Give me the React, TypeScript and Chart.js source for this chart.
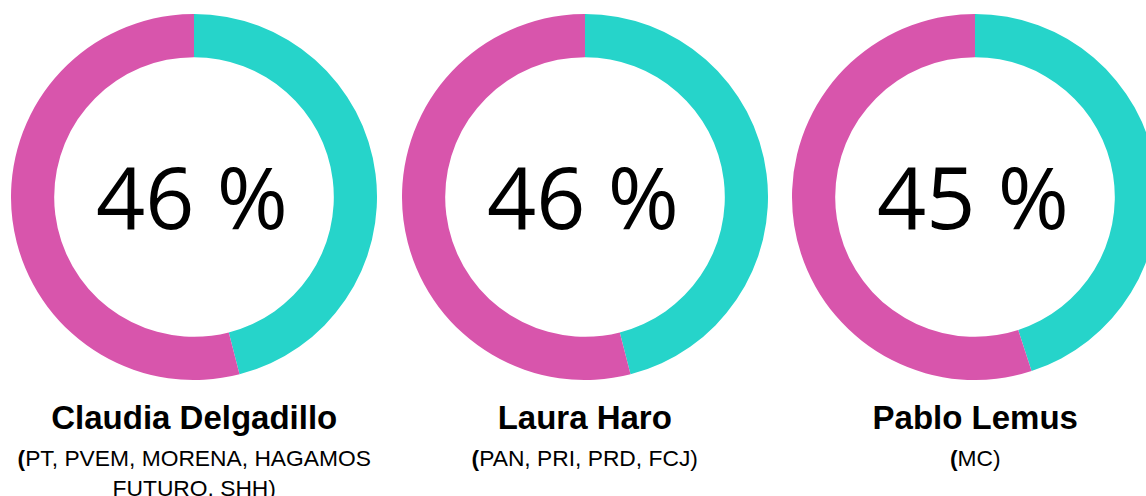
import React, { useEffect, useRef } from "react";
import { Chart, registerables } from "chart.js";

Chart.register(...registerables);

const candidates = ["Claudia Delgadillo", "Laura Haro", "Pablo Lemus"];
const parties = ["PT, PVEM, MORENA, HAGAMOS FUTURO, SHH", "PAN, PRI, PRD, FCJ", "MC"];
const shareValues = [46, 46, 45];
const restValues = [54, 54, 55];
const segmentLabels = ["Intención", "Resto"];
const segmentColors = ["#26D4CA", "#D855AC"];

const centerTextPlugin = {
  id: "centerText",
  afterDraw(chart: any) {
    const meta = chart.getDatasetMeta(0);
    const arc = meta.data[0];
    if (!arc) return;
    const ctx = chart.ctx;
    const value = chart.data.datasets[0].data[0];
    ctx.save();
    ctx.font = '86px "Open Sans"';
    ctx.fillStyle = "#000";
    ctx.textAlign = "center";
    ctx.textBaseline = "alphabetic";
    ctx.fillText(`${value} %`, arc.x - 2, arc.y + 32);
    ctx.restore();
  },
};

function Donut({ index }: { index: number }) {
  const ref = useRef<HTMLCanvasElement | null>(null);
  useEffect(() => {
    if (!ref.current) return;
    let alive = true;
    const chart = new Chart(ref.current, {
      type: "doughnut",
      data: {
        labels: segmentLabels,
        datasets: [
          {
            data: [shareValues[index], restValues[index]],
            backgroundColor: segmentColors,
            borderWidth: 0,
            hoverOffset: 0,
          },
        ],
      },
      options: {
        animation: false,
        responsive: true,
        maintainAspectRatio: false,
        cutout: "76.4%",
        layout: { padding: 0 },
        plugins: {
          legend: { display: false },
          tooltip: { enabled: false },
        },
      },
      plugins: [centerTextPlugin],
    });
    const fonts = (document as any).fonts;
    if (fonts && fonts.load) {
      fonts.load('86px "Open Sans"').then(() => {
        if (alive) chart.draw();
      });
    }
    return () => {
      alive = false;
      chart.destroy();
    };
  }, [index]);
  return <canvas ref={ref} />;
}

function Panel({ index }: { index: number }) {
  return (
    <div style={{ width: 390.5, flexShrink: 0, textAlign: "center" }}>
      <div style={{ position: "relative", width: 366, height: 366, margin: "14px auto 0" }}>
        <Donut index={index} />
      </div>
      <div
        style={{
          marginTop: 20,
          font: 'bold 33px "Liberation Sans", Arial, sans-serif',
          lineHeight: "36px",
          color: "#000",
        }}
      >
        {candidates[index]}
      </div>
      <div
        style={{
          marginTop: 7,
          width: 372,
          marginLeft: "auto",
          marginRight: "auto",
          font: '22.8px "Liberation Sans", Arial, sans-serif',
          lineHeight: "30px",
          color: "#000",
        }}
      >
        <b>(</b>
        {parties[index]})
      </div>
    </div>
  );
}

export default function App() {
  return (
    <div
      style={{
        position: "absolute",
        left: 0,
        top: 0,
        width: 1146,
        height: 496,
        overflow: "hidden",
        background: "#fff",
      }}
    >
      <div style={{ display: "flex", marginLeft: -1 }}>
        {candidates.map((_, i) => (
          <Panel key={i} index={i} />
        ))}
      </div>
    </div>
  );
}
